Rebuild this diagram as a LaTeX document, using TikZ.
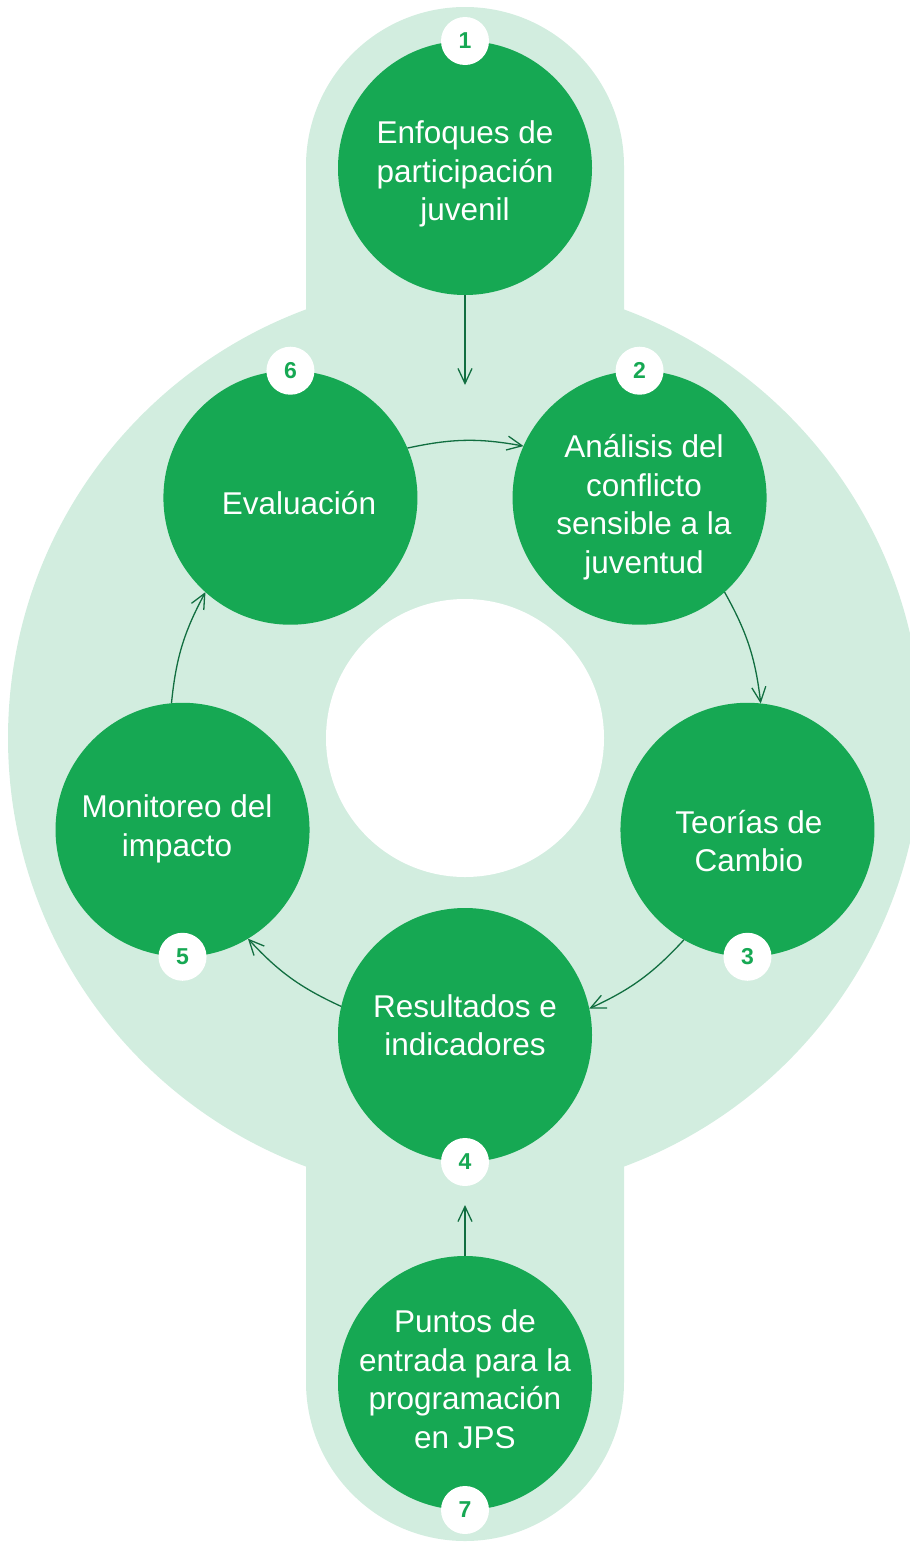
\documentclass[tikz,border=0pt]{standalone}
\usepackage{fontspec}
\setmainfont{Liberation Sans}
\usetikzlibrary{calc,arrows.meta}
\definecolor{dgreen}{RGB}{22,168,83}
\definecolor{lgreen}{RGB}{210,237,223}
\definecolor{agreen}{RGB}{17,110,64}
\tikzset{
  stepcircle/.style={circle,fill=dgreen,minimum size=254pt,inner sep=0pt,outer sep=0pt},
  lbl/.style={text=white,align=center,font=\fontsize{31.5}{38.5}\selectfont,inner sep=0pt},
  badge/.style={circle,fill=white,minimum size=48pt,inner sep=0pt,text=dgreen,font=\fontsize{23}{23}\selectfont\bfseries},
  arr/.style={draw=agreen,line width=1.3pt,-{Straight Barb[length=15pt,width=14pt,line width=1.3pt]}}
}
\begin{document}
\begin{tikzpicture}[x=1pt,y=1pt]
\useasboundingbox (0,0) rectangle (910,-1542);
\clip (0,0) rectangle (910,-1542);
\coordinate (O) at (465,-738);
% background
\fill[lgreen] (O) circle (457);
\fill[lgreen] (306,-166) arc[start angle=180,end angle=0,radius=159] -- (624,-1382) arc[start angle=0,end angle=-180,radius=159] -- cycle;
\fill[white] (O) circle (139);
% circles
\node[stepcircle] (c1) at (465,-168) {};
\node[stepcircle] (c2) at ($(O)+(54:297)$) {};
\node[stepcircle] (c3) at ($(O)+(-18:297)$) {};
\node[stepcircle] (c4) at ($(O)+(-90:297)$) {};
\node[stepcircle] (c5) at ($(O)+(-162:297)$) {};
\node[stepcircle] (c6) at ($(O)+(126:297)$) {};
\node[stepcircle] (c7) at (465,-1383) {};
% labels
\node[lbl] (t1) at (465,-174) {Enfoques de\\participación\\juvenil};
\node[lbl] (t2) at (644,-507) {Análisis del\\conflicto\\sensible a la\\juventud};
\node[lbl] (t3) at (749,-841) {Teorías de\\Cambio};
\node[lbl] (t4) at (465,-1025) {Resultados e\\indicadores};
\node[lbl] (t5) at (177,-829) {Monitoreo del\\impacto};
\node[lbl] (t6) at (299,-503) {Evaluación};
\node[lbl] (t7) at (465,-1379) {Puntos de\\entrada para la\\programación\\en JPS};
% badges
\node[badge] (b1) at (c1.north) {1};
\node[badge] (b2) at (c2.north) {2};
\node[badge] (b3) at (c3.south) {3};
\node[badge] (b4) at (c4.south) {4};
\node[badge] (b5) at (c5.south) {5};
\node[badge] (b6) at (c6.north) {6};
\node[badge] (b7) at (c7.south) {7};
% connectors
\coordinate (e1) at (465,-385);
\coordinate (e7) at (465,-1205);
\draw[arr] (c1.south) -- (e1);
\draw[arr] (c7.north) -- (e7);
\draw[arr] (c6.23.65) to[bend left=11.3] (c2.156.35);
\draw[arr] (c2.-48.35) to[bend left=11.3] (c3.84.35);
\draw[arr] (c3.-120.35) to[bend left=11.3] (c4.12.35);
\draw[arr] (c4.167.65) to[bend left=11.3] (c5.-59.65);
\draw[arr] (c5.95.65) to[bend left=11.3] (c6.228.35);
\end{tikzpicture}
\end{document}
